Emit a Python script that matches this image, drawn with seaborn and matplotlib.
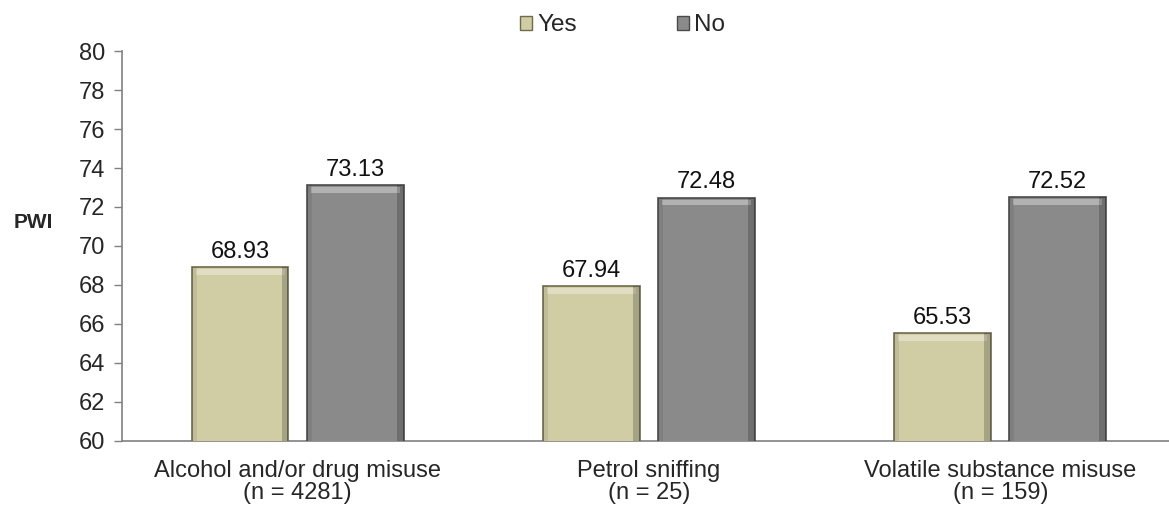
import matplotlib
matplotlib.use("Agg")
import matplotlib.pyplot as plt
import pandas as pd
import seaborn as sns
from matplotlib.patches import Rectangle

# data
categories = ["Alcohol and/or drug misuse\n(n = 4281)",
              "Petrol sniffing\n(n = 25)",
              "Volatile substance misuse\n(n = 159)"]
yes_values = [68.93, 67.94, 65.53]
no_values = [73.13, 72.48, 72.52]
groups = ["Yes", "No"]

df = pd.DataFrame({
    "category": categories * 2,
    "group": ["Yes"] * 3 + ["No"] * 3,
    "PWI": yes_values + no_values,
})

sns.set_style("white")
plt.rcParams["font.family"] = ["Liberation Sans", "DejaVu Sans"]

fills = {"Yes": "#D0CCA4", "No": "#8A8A8A"}
edges = {"Yes": "#6E6A4E", "No": "#4A4A4A"}

fig = plt.figure(figsize=(11.69, 5.08), dpi=100)
ax = fig.add_axes([0.1044, 0.1319, 0.9015, 0.7677])

sns.barplot(data=df, x="category", y="PWI", hue="group", hue_order=groups,
            palette=fills, width=0.655, gap=0.16, ax=ax, legend=False,
            saturation=1, zorder=3)

# colour edges and add a soft bevel derived from each bar
for container, g in zip(ax.containers, groups):
    for bar in container:
        bar.set_edgecolor(edges[g])
        bar.set_linewidth(1.2)
        x0, y0 = bar.get_x(), bar.get_y()
        w, h = bar.get_width(), bar.get_height()
        ax.add_patch(Rectangle((x0 + w * 0.04, y0 + h - 0.4), w * 0.92, 0.3,
                               facecolor="white", alpha=0.35, lw=0, zorder=4))
        ax.add_patch(Rectangle((x0 + w * 0.93, y0), w * 0.07, h,
                               facecolor="black", alpha=0.2, lw=0, zorder=4))
        ax.add_patch(Rectangle((x0, y0), w * 0.05, h,
                               facecolor="black", alpha=0.08, lw=0, zorder=4))
    ax.bar_label(container, fmt="%.2f", padding=3, fontsize=17, color="#111111")

ax.set_ylim(60, 80)
ax.set_yticks(range(60, 81, 2))
ax.set_xlim(-0.5, 2.5)
ax.set_xticks([0.5, 1.5], minor=True)
ax.tick_params(axis="x", which="major", length=0, labelsize=17, pad=14)
ax.tick_params(axis="x", which="minor", length=6, width=1, color="#808080", direction="out")
ax.tick_params(axis="y", length=6, width=1, color="#808080", direction="out",
               labelsize=17, pad=6, left=True)
for lbl in ax.get_xticklabels():
    lbl.set_linespacing(0.95)
ax.set_xlabel("")
ax.set_ylabel("")
ax.text(-0.084, 0.56, "PWI", transform=ax.transAxes, fontsize=15,
        fontweight="bold", ha="center", va="center")

sns.despine(ax=ax, top=True, right=True)
for s in ["left", "bottom"]:
    ax.spines[s].set_color("#808080")
    ax.spines[s].set_linewidth(1.2)

handles = [Rectangle((0, 0), 1, 1, facecolor=fills[g], edgecolor=edges[g]) for g in groups]
fig.legend(handles, groups, loc="center", bbox_to_anchor=(0.5325, 0.95), ncol=2,
           frameon=False, fontsize=17.5, handlelength=0.5, handleheight=0.5,
           handletextpad=0.2, columnspacing=4.1)

fig.savefig("out.png", dpi=100)
